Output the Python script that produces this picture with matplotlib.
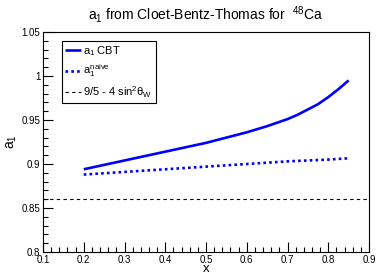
import matplotlib
matplotlib.use("Agg")
import matplotlib.pyplot as plt
from matplotlib.ticker import MultipleLocator

plt.rcParams['font.family'] = ['Liberation Sans', 'DejaVu Sans']
plt.rcParams['mathtext.fontset'] = 'custom'
plt.rcParams['mathtext.rm'] = 'Liberation Sans'
plt.rcParams['mathtext.it'] = 'Liberation Sans'
plt.rcParams['mathtext.bf'] = 'Liberation Sans:bold'

# Data
x_vals = [0.20, 0.25, 0.30, 0.35, 0.40, 0.45, 0.50, 0.55, 0.60, 0.65, 0.70, 0.725, 0.75, 0.775, 0.80, 0.825, 0.85]
a1_cbt = [0.894, 0.899, 0.904, 0.909, 0.914, 0.919, 0.924, 0.930, 0.936, 0.943, 0.951, 0.956, 0.962, 0.968, 0.976, 0.985, 0.995]
a1_naive = [0.888, 0.8895, 0.891, 0.8925, 0.894, 0.8955, 0.897, 0.8985, 0.900, 0.9015, 0.903, 0.9035, 0.904, 0.9045, 0.905, 0.9058, 0.9065]
sm_value = 0.86

title = r"$a_1$ from Cloet-Bentz-Thomas for  $^{48}$Ca"
labels = [r"$a_1$ CBT", r"$a_1^{naive}$", r"9/5 - 4 sin$^2\theta_W$"]

fig = plt.figure(figsize=(3.77, 2.77), dpi=100)
ax = fig.add_axes([43/377, 1-252/277, 326/377, 220/277])

l1, = ax.plot(x_vals, a1_cbt, color=(0, 0, 1), lw=1.9, solid_capstyle='butt')
l2, = ax.plot(x_vals, a1_naive, color=(0, 0, 1), lw=1.9, linestyle=(0, (1, 1.2)))
l3 = ax.axhline(sm_value, color='black', lw=0.8, linestyle=(0, (3, 3)))

ax.set_xlim(0.1, 0.9)
ax.set_ylim(0.8, 1.05)
ax.xaxis.set_major_locator(MultipleLocator(0.1))
ax.xaxis.set_minor_locator(MultipleLocator(0.02))
ax.yaxis.set_major_locator(MultipleLocator(0.05))
ax.yaxis.set_minor_locator(MultipleLocator(0.01))
ax.xaxis.set_major_formatter(matplotlib.ticker.FuncFormatter(lambda v, p: f"{v:g}"))
ax.yaxis.set_major_formatter(matplotlib.ticker.FuncFormatter(lambda v, p: f"{v:g}"))

ax.tick_params(which='both', direction='in', top=False, right=False, labelsize=7, pad=2, width=0.8)
ax.tick_params(which='major', length=7)
ax.tick_params(which='minor', length=3.5)
for s in ax.spines.values():
    s.set_linewidth(0.8)

ax.set_xlabel("x", fontsize=9.5, labelpad=-1)
ax.set_ylabel(r"$a_1$", fontsize=10, labelpad=2)
ax.set_title(title, fontsize=10, pad=9)

leg = ax.legend([l1, l2, l3], labels, loc='upper left',
                bbox_to_anchor=(19/326, 211.5/220), fontsize=8,
                fancybox=False, edgecolor='black', framealpha=1,
                handlelength=1.4, handletextpad=0.2, borderpad=0.3,
                labelspacing=0.45, borderaxespad=0)
leg.get_frame().set_linewidth(0.8)

fig.savefig("out.png", dpi=100, facecolor='white')
